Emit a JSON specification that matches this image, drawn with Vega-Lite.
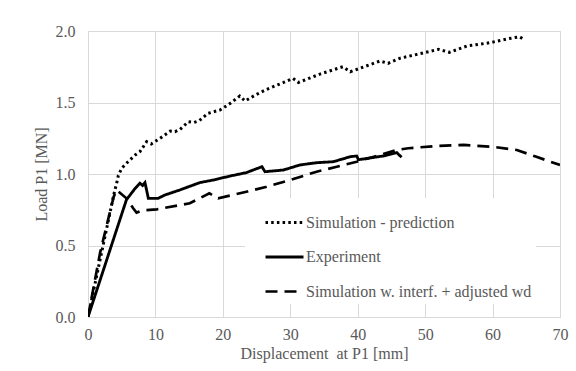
{
  "$schema": "https://vega.github.io/schema/vega-lite/v6.json",
  "width": 472,
  "height": 286,
  "autosize": "none",
  "padding": {"left": 88, "top": 31, "right": 16, "bottom": 54},
  "background": "white",
  "config": {
    "view": {"stroke": "#d9d9d9", "strokeWidth": 1},
    "font": "Liberation Serif, Times New Roman, serif",
    "axis": {
      "labelFont": "Liberation Serif, Times New Roman, serif",
      "labelFontSize": 16,
      "labelColor": "#595959",
      "titleFont": "Liberation Serif, Times New Roman, serif",
      "titleFontSize": 16,
      "titleFontWeight": "normal",
      "titleColor": "#595959",
      "gridColor": "#d9d9d9",
      "gridWidth": 1,
      "domain": false,
      "ticks": false,
      "tickSize": 0
    },
    "legend": {
      "labelFont": "Liberation Serif, Times New Roman, serif",
      "labelFontSize": 16,
      "labelColor": "#595959",
      "symbolStrokeColor": "black",
      "labelLimit": 400
    }
  },
  "data": {
    "values": [
      {"s": "Simulation - prediction", "x": 0, "y": 0},
      {"s": "Simulation - prediction", "x": 3.8, "y": 0.85},
      {"s": "Simulation - prediction", "x": 4.0, "y": 0.89},
      {"s": "Simulation - prediction", "x": 4.25, "y": 0.935},
      {"s": "Simulation - prediction", "x": 4.5, "y": 0.99},
      {"s": "Simulation - prediction", "x": 5.0, "y": 1.04},
      {"s": "Simulation - prediction", "x": 5.7, "y": 1.075},
      {"s": "Simulation - prediction", "x": 7.0, "y": 1.133},
      {"s": "Simulation - prediction", "x": 7.7, "y": 1.156},
      {"s": "Simulation - prediction", "x": 8.7, "y": 1.226},
      {"s": "Simulation - prediction", "x": 9.4, "y": 1.21},
      {"s": "Simulation - prediction", "x": 10.7, "y": 1.25},
      {"s": "Simulation - prediction", "x": 12.2, "y": 1.3},
      {"s": "Simulation - prediction", "x": 12.9, "y": 1.296},
      {"s": "Simulation - prediction", "x": 13.6, "y": 1.31},
      {"s": "Simulation - prediction", "x": 14.9, "y": 1.366},
      {"s": "Simulation - prediction", "x": 15.7, "y": 1.36},
      {"s": "Simulation - prediction", "x": 16.5, "y": 1.373},
      {"s": "Simulation - prediction", "x": 17.8, "y": 1.424},
      {"s": "Simulation - prediction", "x": 19.6, "y": 1.448},
      {"s": "Simulation - prediction", "x": 21.1, "y": 1.494},
      {"s": "Simulation - prediction", "x": 22.5, "y": 1.545},
      {"s": "Simulation - prediction", "x": 23.3, "y": 1.51},
      {"s": "Simulation - prediction", "x": 24.8, "y": 1.552},
      {"s": "Simulation - prediction", "x": 26.5, "y": 1.592},
      {"s": "Simulation - prediction", "x": 29.0, "y": 1.64},
      {"s": "Simulation - prediction", "x": 30.4, "y": 1.669},
      {"s": "Simulation - prediction", "x": 31.2, "y": 1.64},
      {"s": "Simulation - prediction", "x": 34.5, "y": 1.7},
      {"s": "Simulation - prediction", "x": 37.8, "y": 1.75},
      {"s": "Simulation - prediction", "x": 38.9, "y": 1.715},
      {"s": "Simulation - prediction", "x": 43.3, "y": 1.79},
      {"s": "Simulation - prediction", "x": 44.5, "y": 1.774},
      {"s": "Simulation - prediction", "x": 46.3, "y": 1.81},
      {"s": "Simulation - prediction", "x": 49.5, "y": 1.844},
      {"s": "Simulation - prediction", "x": 52.0, "y": 1.872},
      {"s": "Simulation - prediction", "x": 53.6, "y": 1.851},
      {"s": "Simulation - prediction", "x": 56.2, "y": 1.895},
      {"s": "Simulation - prediction", "x": 59.6, "y": 1.918},
      {"s": "Simulation - prediction", "x": 62.1, "y": 1.944},
      {"s": "Simulation - prediction", "x": 64.0, "y": 1.96},
      {"s": "Simulation - prediction", "x": 64.8, "y": 1.937},

      {"s": "Experiment", "x": 0, "y": 0},
      {"s": "Experiment", "x": 5.7, "y": 0.82},
      {"s": "Experiment", "x": 7.0, "y": 0.9},
      {"s": "Experiment", "x": 7.7, "y": 0.935},
      {"s": "Experiment", "x": 8.1, "y": 0.92},
      {"s": "Experiment", "x": 8.45, "y": 0.94},
      {"s": "Experiment", "x": 8.95, "y": 0.83},
      {"s": "Experiment", "x": 10.4, "y": 0.83},
      {"s": "Experiment", "x": 11.4, "y": 0.853},
      {"s": "Experiment", "x": 13.6, "y": 0.888},
      {"s": "Experiment", "x": 16.6, "y": 0.94},
      {"s": "Experiment", "x": 18.6, "y": 0.958},
      {"s": "Experiment", "x": 21.0, "y": 0.985},
      {"s": "Experiment", "x": 23.5, "y": 1.01},
      {"s": "Experiment", "x": 25.8, "y": 1.051},
      {"s": "Experiment", "x": 26.25, "y": 1.016},
      {"s": "Experiment", "x": 29.0, "y": 1.028},
      {"s": "Experiment", "x": 31.4, "y": 1.063},
      {"s": "Experiment", "x": 33.9, "y": 1.079},
      {"s": "Experiment", "x": 36.4, "y": 1.086},
      {"s": "Experiment", "x": 38.9, "y": 1.121},
      {"s": "Experiment", "x": 39.85, "y": 1.126},
      {"s": "Experiment", "x": 40.1, "y": 1.1},
      {"s": "Experiment", "x": 43.8, "y": 1.126},
      {"s": "Experiment", "x": 45.8, "y": 1.149},
      {"s": "Experiment", "x": 46.5, "y": 1.117},

      {"s": "Simulation w. interf. + adjusted wd", "x": 0, "y": 0},
      {"s": "Simulation w. interf. + adjusted wd", "x": 1.8, "y": 0.45},
      {"s": "Simulation w. interf. + adjusted wd", "x": 3.8, "y": 0.84},
      {"s": "Simulation w. interf. + adjusted wd", "x": 4.25, "y": 0.888},
      {"s": "Simulation w. interf. + adjusted wd", "x": 5.7, "y": 0.83},
      {"s": "Simulation w. interf. + adjusted wd", "x": 6.7, "y": 0.76},
      {"s": "Simulation w. interf. + adjusted wd", "x": 7.2, "y": 0.73},
      {"s": "Simulation w. interf. + adjusted wd", "x": 8.0, "y": 0.745},
      {"s": "Simulation w. interf. + adjusted wd", "x": 10.2, "y": 0.753},
      {"s": "Simulation w. interf. + adjusted wd", "x": 15.1, "y": 0.795},
      {"s": "Simulation w. interf. + adjusted wd", "x": 18.0, "y": 0.865},
      {"s": "Simulation w. interf. + adjusted wd", "x": 19.3, "y": 0.83},
      {"s": "Simulation w. interf. + adjusted wd", "x": 23.5, "y": 0.876},
      {"s": "Simulation w. interf. + adjusted wd", "x": 26.5, "y": 0.911},
      {"s": "Simulation w. interf. + adjusted wd", "x": 30.0, "y": 0.958},
      {"s": "Simulation w. interf. + adjusted wd", "x": 33.9, "y": 1.016},
      {"s": "Simulation w. interf. + adjusted wd", "x": 36.9, "y": 1.051},
      {"s": "Simulation w. interf. + adjusted wd", "x": 39.85, "y": 1.086},
      {"s": "Simulation w. interf. + adjusted wd", "x": 45.8, "y": 1.168},
      {"s": "Simulation w. interf. + adjusted wd", "x": 47.5, "y": 1.18},
      {"s": "Simulation w. interf. + adjusted wd", "x": 51.7, "y": 1.196},
      {"s": "Simulation w. interf. + adjusted wd", "x": 55.7, "y": 1.203},
      {"s": "Simulation w. interf. + adjusted wd", "x": 60.1, "y": 1.19},
      {"s": "Simulation w. interf. + adjusted wd", "x": 63.6, "y": 1.168},
      {"s": "Simulation w. interf. + adjusted wd", "x": 66.5, "y": 1.12},
      {"s": "Simulation w. interf. + adjusted wd", "x": 70.0, "y": 1.063}
    ]
  },
  "mark": {"type": "line", "color": "black", "clip": true},
  "encoding": {
    "x": {
      "field": "x",
      "type": "quantitative",
      "scale": {"domain": [0, 70], "nice": false},
      "axis": {
        "title": "Displacement\u00a0 at P1 [mm]",
        "values": [0, 10, 20, 30, 40, 50, 60, 70],
        "labelPadding": 9,
        "titlePadding": 3,
        "labelFlush": false
      }
    },
    "y": {
      "field": "y",
      "type": "quantitative",
      "scale": {"domain": [0, 2], "nice": false},
      "axis": {
        "title": "Load P1 [MN]",
        "values": [0, 0.5, 1, 1.5, 2],
        "format": ".1f",
        "labelPadding": 13,
        "titlePadding": 6,
        "labelFlush": false
      }
    },
    "strokeDash": {
      "field": "s",
      "type": "nominal",
      "scale": {
        "domain": ["Simulation - prediction", "Experiment", "Simulation w. interf. + adjusted wd"],
        "range": [[2.5, 3.2], [1, 0], [12, 7]]
      },
      "legend": {
        "title": null,
        "orient": "none",
        "legendX": 157,
        "legendY": 167,
        "fillColor": "white",
        "padding": 4,
        "symbolOffset": 15,
        "symbolType": "stroke",
        "symbolSize": 1444,
        "labelOffset": 1,
        "rowPadding": 5.5
      }
    },
    "strokeWidth": {
      "field": "s",
      "type": "nominal",
      "scale": {
        "domain": ["Simulation - prediction", "Experiment", "Simulation w. interf. + adjusted wd"],
        "range": [3, 2.7, 3]
      },
      "legend": null
    }
  }
}
